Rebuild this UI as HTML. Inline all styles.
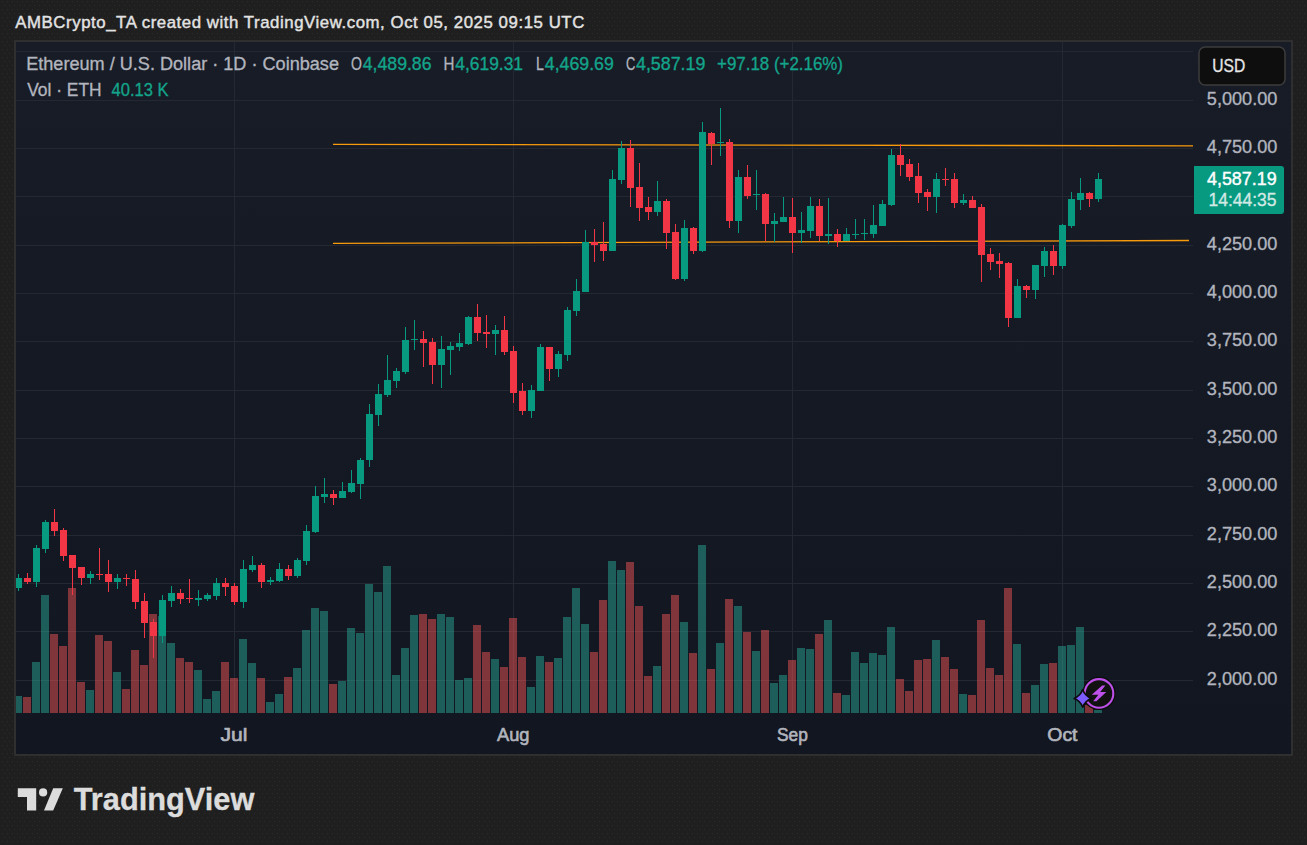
<!DOCTYPE html>
<html><head><meta charset="utf-8"><title>ETH/USD TradingView</title>
<style>html,body{margin:0;padding:0;background:#202020;width:1307px;height:845px;overflow:hidden}svg{display:block}text{font-family:"Liberation Sans",sans-serif}</style>
</head><body>
<svg width="1307" height="845" viewBox="0 0 1307 845" font-family='"Liberation Sans", sans-serif'>
<defs><pattern id="dots" x="0" y="0" width="5" height="8" patternUnits="userSpaceOnUse"><rect x="2" y="1" width="1" height="1" fill="#2c2c2c"/><rect x="4" y="5" width="1" height="1" fill="#2c2c2c"/></pattern><linearGradient id="pg" x1="0" y1="0" x2="0" y2="1"><stop offset="0" stop-color="#181c27"/><stop offset="1" stop-color="#121620"/></linearGradient><clipPath id="pane"><rect x="16" y="42" width="1177" height="671"/></clipPath></defs>
<rect x="0" y="0" width="1307" height="845" fill="#1f1f1f"/>
<rect x="0" y="0" width="1307" height="845" fill="url(#dots)"/>
<rect x="14" y="40" width="1279" height="716" fill="#2f2f2f"/>
<rect x="16" y="42" width="1275" height="712" fill="url(#pg)"/>
<rect x="16" y="51" width="1177" height="1" fill="#242833"/>
<rect x="16" y="100" width="1177" height="1" fill="#242833"/>
<rect x="16" y="148" width="1177" height="1" fill="#242833"/>
<rect x="16" y="196" width="1177" height="1" fill="#242833"/>
<rect x="16" y="245" width="1177" height="1" fill="#242833"/>
<rect x="16" y="293" width="1177" height="1" fill="#242833"/>
<rect x="16" y="341" width="1177" height="1" fill="#242833"/>
<rect x="16" y="390" width="1177" height="1" fill="#242833"/>
<rect x="16" y="438" width="1177" height="1" fill="#242833"/>
<rect x="16" y="486" width="1177" height="1" fill="#242833"/>
<rect x="16" y="535" width="1177" height="1" fill="#242833"/>
<rect x="16" y="583" width="1177" height="1" fill="#242833"/>
<rect x="16" y="631" width="1177" height="1" fill="#242833"/>
<rect x="16" y="680" width="1177" height="1" fill="#242833"/>
<rect x="234" y="42" width="1" height="671" fill="#242833"/>
<rect x="513" y="42" width="1" height="671" fill="#242833"/>
<rect x="792" y="42" width="1" height="671" fill="#242833"/>
<rect x="1062" y="42" width="1" height="671" fill="#242833"/>
<g clip-path="url(#pane)" fill-opacity="0.5"><rect x="14" y="696.0" width="8" height="17.0" fill="#27a595"/><rect x="23" y="697.0" width="8" height="16.0" fill="#eb5353"/><rect x="32" y="662.0" width="8" height="51.0" fill="#27a595"/><rect x="41" y="595.0" width="8" height="118.0" fill="#27a595"/><rect x="50" y="634.0" width="8" height="79.0" fill="#eb5353"/><rect x="59" y="646.0" width="8" height="67.0" fill="#eb5353"/><rect x="68" y="588.0" width="8" height="125.0" fill="#eb5353"/><rect x="77" y="682.0" width="8" height="31.0" fill="#eb5353"/><rect x="86" y="690.0" width="8" height="23.0" fill="#27a595"/><rect x="95" y="635.0" width="8" height="78.0" fill="#eb5353"/><rect x="104" y="641.0" width="8" height="72.0" fill="#eb5353"/><rect x="113" y="672.0" width="8" height="41.0" fill="#27a595"/><rect x="122" y="689.0" width="8" height="24.0" fill="#eb5353"/><rect x="131" y="650.0" width="8" height="63.0" fill="#eb5353"/><rect x="140" y="665.0" width="8" height="48.0" fill="#eb5353"/><rect x="149" y="614.0" width="8" height="99.0" fill="#eb5353"/><rect x="158" y="616.0" width="8" height="97.0" fill="#27a595"/><rect x="167" y="643.0" width="8" height="70.0" fill="#27a595"/><rect x="176" y="658.0" width="8" height="55.0" fill="#eb5353"/><rect x="185" y="662.0" width="8" height="51.0" fill="#eb5353"/><rect x="194" y="670.0" width="8" height="43.0" fill="#27a595"/><rect x="203" y="699.0" width="8" height="14.0" fill="#27a595"/><rect x="212" y="691.0" width="8" height="22.0" fill="#27a595"/><rect x="221" y="662.0" width="8" height="51.0" fill="#eb5353"/><rect x="230" y="678.0" width="8" height="35.0" fill="#eb5353"/><rect x="239" y="639.0" width="8" height="74.0" fill="#27a595"/><rect x="248" y="663.0" width="8" height="50.0" fill="#27a595"/><rect x="257" y="678.0" width="8" height="35.0" fill="#eb5353"/><rect x="266" y="702.0" width="8" height="11.0" fill="#27a595"/><rect x="275" y="694.0" width="8" height="19.0" fill="#27a595"/><rect x="284" y="677.0" width="8" height="36.0" fill="#eb5353"/><rect x="293" y="668.0" width="8" height="45.0" fill="#27a595"/><rect x="302" y="630.0" width="8" height="83.0" fill="#27a595"/><rect x="311" y="608.0" width="8" height="105.0" fill="#27a595"/><rect x="320" y="611.0" width="8" height="102.0" fill="#27a595"/><rect x="329" y="684.0" width="8" height="29.0" fill="#eb5353"/><rect x="338" y="681.0" width="8" height="32.0" fill="#27a595"/><rect x="347" y="628.0" width="8" height="85.0" fill="#27a595"/><rect x="356" y="633.0" width="8" height="80.0" fill="#27a595"/><rect x="365" y="584.0" width="8" height="129.0" fill="#27a595"/><rect x="374" y="592.0" width="8" height="121.0" fill="#27a595"/><rect x="383" y="566.0" width="8" height="147.0" fill="#27a595"/><rect x="392" y="675.0" width="8" height="38.0" fill="#27a595"/><rect x="401" y="648.0" width="8" height="65.0" fill="#27a595"/><rect x="410" y="615.0" width="8" height="98.0" fill="#27a595"/><rect x="419" y="614.0" width="8" height="99.0" fill="#eb5353"/><rect x="428" y="619.0" width="8" height="94.0" fill="#eb5353"/><rect x="437" y="614.0" width="8" height="99.0" fill="#27a595"/><rect x="446" y="617.0" width="8" height="96.0" fill="#27a595"/><rect x="455" y="680.0" width="8" height="33.0" fill="#27a595"/><rect x="464" y="678.0" width="8" height="35.0" fill="#27a595"/><rect x="473" y="625.0" width="8" height="88.0" fill="#eb5353"/><rect x="482" y="652.0" width="8" height="61.0" fill="#eb5353"/><rect x="491" y="659.0" width="8" height="54.0" fill="#27a595"/><rect x="500" y="667.0" width="8" height="46.0" fill="#eb5353"/><rect x="509" y="618.0" width="8" height="95.0" fill="#eb5353"/><rect x="518" y="657.0" width="8" height="56.0" fill="#eb5353"/><rect x="527" y="687.0" width="8" height="26.0" fill="#27a595"/><rect x="536" y="656.0" width="8" height="57.0" fill="#27a595"/><rect x="545" y="662.0" width="8" height="51.0" fill="#eb5353"/><rect x="554" y="658.0" width="8" height="55.0" fill="#27a595"/><rect x="563" y="617.0" width="8" height="96.0" fill="#27a595"/><rect x="572" y="588.0" width="8" height="125.0" fill="#27a595"/><rect x="581" y="624.0" width="8" height="89.0" fill="#27a595"/><rect x="590" y="652.0" width="8" height="61.0" fill="#eb5353"/><rect x="599" y="600.0" width="8" height="113.0" fill="#eb5353"/><rect x="608" y="561.0" width="8" height="152.0" fill="#27a595"/><rect x="617" y="570.0" width="8" height="143.0" fill="#27a595"/><rect x="626" y="562.0" width="8" height="151.0" fill="#eb5353"/><rect x="635" y="606.0" width="8" height="107.0" fill="#eb5353"/><rect x="644" y="676.0" width="8" height="37.0" fill="#eb5353"/><rect x="653" y="666.0" width="8" height="47.0" fill="#27a595"/><rect x="662" y="614.0" width="8" height="99.0" fill="#eb5353"/><rect x="671" y="595.0" width="8" height="118.0" fill="#eb5353"/><rect x="680" y="622.0" width="8" height="91.0" fill="#27a595"/><rect x="689" y="653.0" width="8" height="60.0" fill="#eb5353"/><rect x="698" y="545.0" width="8" height="168.0" fill="#27a595"/><rect x="707" y="669.0" width="8" height="44.0" fill="#eb5353"/><rect x="716" y="643.0" width="8" height="70.0" fill="#27a595"/><rect x="725" y="599.0" width="8" height="114.0" fill="#eb5353"/><rect x="734" y="606.0" width="8" height="107.0" fill="#27a595"/><rect x="743" y="632.0" width="8" height="81.0" fill="#eb5353"/><rect x="752" y="651.0" width="8" height="62.0" fill="#27a595"/><rect x="761" y="630.0" width="8" height="83.0" fill="#eb5353"/><rect x="770" y="683.0" width="8" height="30.0" fill="#27a595"/><rect x="779" y="675.0" width="8" height="38.0" fill="#27a595"/><rect x="788" y="660.0" width="8" height="53.0" fill="#eb5353"/><rect x="797" y="648.0" width="8" height="65.0" fill="#27a595"/><rect x="806" y="649.0" width="8" height="64.0" fill="#27a595"/><rect x="815" y="634.0" width="8" height="79.0" fill="#eb5353"/><rect x="824" y="620.0" width="8" height="93.0" fill="#27a595"/><rect x="833" y="693.0" width="8" height="20.0" fill="#eb5353"/><rect x="842" y="695.0" width="8" height="18.0" fill="#27a595"/><rect x="851" y="652.0" width="8" height="61.0" fill="#27a595"/><rect x="860" y="663.0" width="8" height="50.0" fill="#27a595"/><rect x="869" y="653.0" width="8" height="60.0" fill="#27a595"/><rect x="878" y="655.0" width="8" height="58.0" fill="#27a595"/><rect x="887" y="627.0" width="8" height="86.0" fill="#27a595"/><rect x="896" y="679.0" width="8" height="34.0" fill="#eb5353"/><rect x="905" y="691.0" width="8" height="22.0" fill="#eb5353"/><rect x="914" y="660.0" width="8" height="53.0" fill="#eb5353"/><rect x="923" y="659.0" width="8" height="54.0" fill="#eb5353"/><rect x="932" y="640.0" width="8" height="73.0" fill="#27a595"/><rect x="941" y="657.0" width="8" height="56.0" fill="#eb5353"/><rect x="950" y="669.0" width="8" height="44.0" fill="#eb5353"/><rect x="959" y="694.0" width="8" height="19.0" fill="#27a595"/><rect x="968" y="695.0" width="8" height="18.0" fill="#eb5353"/><rect x="977" y="620.0" width="8" height="93.0" fill="#eb5353"/><rect x="986" y="668.0" width="8" height="45.0" fill="#eb5353"/><rect x="995" y="675.0" width="8" height="38.0" fill="#eb5353"/><rect x="1004" y="588.0" width="8" height="125.0" fill="#eb5353"/><rect x="1013" y="644.0" width="8" height="69.0" fill="#27a595"/><rect x="1022" y="693.0" width="8" height="20.0" fill="#eb5353"/><rect x="1031" y="685.0" width="8" height="28.0" fill="#27a595"/><rect x="1040" y="664.0" width="8" height="49.0" fill="#27a595"/><rect x="1049" y="663.0" width="8" height="50.0" fill="#eb5353"/><rect x="1058" y="646.0" width="8" height="67.0" fill="#27a595"/><rect x="1067" y="645.0" width="8" height="68.0" fill="#27a595"/><rect x="1076" y="627.0" width="8" height="86.0" fill="#27a595"/><rect x="1085" y="705.0" width="8" height="8.0" fill="#eb5353"/><rect x="1094" y="710.0" width="8" height="3.0" fill="#27a595"/></g>
<line x1="333" y1="144.3" x2="1193" y2="145.8" stroke="#f79a0c" stroke-width="1.3"/>
<line x1="333" y1="243.4" x2="1189" y2="240.5" stroke="#f79a0c" stroke-width="1.3"/>
<g clip-path="url(#pane)"><rect x="18" y="574.0" width="1" height="17.0" fill="#089981"/><rect x="15" y="578.0" width="7" height="10.0" fill="#089981"/><rect x="27" y="573.0" width="1" height="11.0" fill="#f23645"/><rect x="24" y="578.0" width="7" height="4.0" fill="#f23645"/><rect x="36" y="545.0" width="1" height="42.0" fill="#089981"/><rect x="33" y="548.0" width="7" height="34.0" fill="#089981"/><rect x="45" y="520.0" width="1" height="33.0" fill="#089981"/><rect x="42" y="522.0" width="7" height="27.0" fill="#089981"/><rect x="54" y="509.0" width="1" height="27.0" fill="#f23645"/><rect x="51" y="522.0" width="7" height="9.0" fill="#f23645"/><rect x="63" y="528.0" width="1" height="33.0" fill="#f23645"/><rect x="60" y="530.0" width="7" height="26.0" fill="#f23645"/><rect x="72" y="555.0" width="1" height="40.0" fill="#f23645"/><rect x="69" y="555.0" width="7" height="13.0" fill="#f23645"/><rect x="81" y="567.0" width="1" height="18.0" fill="#f23645"/><rect x="78" y="567.0" width="7" height="11.0" fill="#f23645"/><rect x="90" y="571.0" width="1" height="13.0" fill="#089981"/><rect x="87" y="574.0" width="7" height="4.0" fill="#089981"/><rect x="99" y="548.0" width="1" height="32.0" fill="#f23645"/><rect x="96" y="574.0" width="7" height="1" fill="#f23645"/><rect x="108" y="560.0" width="1" height="32.0" fill="#f23645"/><rect x="105" y="574.0" width="7" height="8.0" fill="#f23645"/><rect x="117" y="574.0" width="1" height="15.0" fill="#089981"/><rect x="114" y="578.0" width="7" height="4.0" fill="#089981"/><rect x="126" y="574.0" width="1" height="12.0" fill="#f23645"/><rect x="123" y="578.0" width="7" height="1" fill="#f23645"/><rect x="135" y="570.0" width="1" height="39.0" fill="#f23645"/><rect x="132" y="579.0" width="7" height="23.0" fill="#f23645"/><rect x="144" y="593.0" width="1" height="45.0" fill="#f23645"/><rect x="141" y="601.0" width="7" height="22.0" fill="#f23645"/><rect x="153" y="619.0" width="1" height="39.0" fill="#f23645"/><rect x="150" y="622.0" width="7" height="14.0" fill="#f23645"/><rect x="162" y="595.0" width="1" height="48.0" fill="#089981"/><rect x="159" y="600.0" width="7" height="36.0" fill="#089981"/><rect x="171" y="586.0" width="1" height="21.0" fill="#089981"/><rect x="168" y="593.0" width="7" height="8.0" fill="#089981"/><rect x="180" y="589.0" width="1" height="15.0" fill="#f23645"/><rect x="177" y="593.0" width="7" height="6.0" fill="#f23645"/><rect x="189" y="579.0" width="1" height="24.0" fill="#f23645"/><rect x="186" y="598.0" width="7" height="1" fill="#f23645"/><rect x="198" y="590.0" width="1" height="16.0" fill="#089981"/><rect x="195" y="598.0" width="7" height="2.0" fill="#089981"/><rect x="207" y="593.0" width="1" height="8.0" fill="#089981"/><rect x="204" y="595.0" width="7" height="4.0" fill="#089981"/><rect x="216" y="578.0" width="1" height="22.0" fill="#089981"/><rect x="213" y="583.0" width="7" height="13.0" fill="#089981"/><rect x="225" y="578.0" width="1" height="18.0" fill="#f23645"/><rect x="222" y="583.0" width="7" height="4.0" fill="#f23645"/><rect x="234" y="583.0" width="1" height="22.0" fill="#f23645"/><rect x="231" y="586.0" width="7" height="16.0" fill="#f23645"/><rect x="243" y="560.0" width="1" height="48.0" fill="#089981"/><rect x="240" y="569.0" width="7" height="33.0" fill="#089981"/><rect x="252" y="556.0" width="1" height="16.0" fill="#089981"/><rect x="249" y="565.0" width="7" height="5.0" fill="#089981"/><rect x="261" y="563.0" width="1" height="25.0" fill="#f23645"/><rect x="258" y="565.0" width="7" height="17.0" fill="#f23645"/><rect x="270" y="577.0" width="1" height="8.0" fill="#089981"/><rect x="267" y="580.0" width="7" height="2.0" fill="#089981"/><rect x="279" y="563.0" width="1" height="19.0" fill="#089981"/><rect x="276" y="569.0" width="7" height="12.0" fill="#089981"/><rect x="288" y="565.0" width="1" height="15.0" fill="#f23645"/><rect x="285" y="569.0" width="7" height="7.0" fill="#f23645"/><rect x="297" y="558.0" width="1" height="20.0" fill="#089981"/><rect x="294" y="560.0" width="7" height="16.0" fill="#089981"/><rect x="306" y="525.0" width="1" height="40.0" fill="#089981"/><rect x="303" y="531.0" width="7" height="30.0" fill="#089981"/><rect x="315" y="486.0" width="1" height="47.0" fill="#089981"/><rect x="312" y="496.0" width="7" height="36.0" fill="#089981"/><rect x="324" y="478.0" width="1" height="25.0" fill="#089981"/><rect x="321" y="494.0" width="7" height="3.0" fill="#089981"/><rect x="333" y="490.0" width="1" height="15.0" fill="#f23645"/><rect x="330" y="494.0" width="7" height="4.0" fill="#f23645"/><rect x="342" y="482.0" width="1" height="16.0" fill="#089981"/><rect x="339" y="491.0" width="7" height="7.0" fill="#089981"/><rect x="351" y="470.0" width="1" height="23.0" fill="#089981"/><rect x="348" y="483.0" width="7" height="9.0" fill="#089981"/><rect x="360" y="458.0" width="1" height="41.0" fill="#089981"/><rect x="357" y="460.0" width="7" height="24.0" fill="#089981"/><rect x="369" y="404.0" width="1" height="63.0" fill="#089981"/><rect x="366" y="414.0" width="7" height="46.0" fill="#089981"/><rect x="378" y="384.0" width="1" height="42.0" fill="#089981"/><rect x="375" y="394.0" width="7" height="21.0" fill="#089981"/><rect x="387" y="355.0" width="1" height="42.0" fill="#089981"/><rect x="384" y="380.0" width="7" height="15.0" fill="#089981"/><rect x="396" y="368.0" width="1" height="20.0" fill="#089981"/><rect x="393" y="371.0" width="7" height="10.0" fill="#089981"/><rect x="405" y="327.0" width="1" height="47.0" fill="#089981"/><rect x="402" y="340.0" width="7" height="32.0" fill="#089981"/><rect x="414" y="320.0" width="1" height="30.0" fill="#089981"/><rect x="411" y="339.0" width="7" height="1" fill="#089981"/><rect x="423" y="331.0" width="1" height="36.0" fill="#f23645"/><rect x="420" y="339.0" width="7" height="4.0" fill="#f23645"/><rect x="432" y="338.0" width="1" height="46.0" fill="#f23645"/><rect x="429" y="342.0" width="7" height="23.0" fill="#f23645"/><rect x="441" y="336.0" width="1" height="52.0" fill="#089981"/><rect x="438" y="349.0" width="7" height="16.0" fill="#089981"/><rect x="450" y="342.0" width="1" height="33.0" fill="#089981"/><rect x="447" y="346.0" width="7" height="4.0" fill="#089981"/><rect x="459" y="333.0" width="1" height="18.0" fill="#089981"/><rect x="456" y="343.0" width="7" height="4.0" fill="#089981"/><rect x="468" y="316.0" width="1" height="29.0" fill="#089981"/><rect x="465" y="317.0" width="7" height="27.0" fill="#089981"/><rect x="477" y="304.0" width="1" height="37.0" fill="#f23645"/><rect x="474" y="317.0" width="7" height="16.0" fill="#f23645"/><rect x="486" y="315.0" width="1" height="33.0" fill="#f23645"/><rect x="483" y="332.0" width="7" height="2.0" fill="#f23645"/><rect x="495" y="325.0" width="1" height="30.0" fill="#089981"/><rect x="492" y="330.0" width="7" height="4.0" fill="#089981"/><rect x="504" y="316.0" width="1" height="39.0" fill="#f23645"/><rect x="501" y="330.0" width="7" height="22.0" fill="#f23645"/><rect x="513" y="346.0" width="1" height="57.0" fill="#f23645"/><rect x="510" y="351.0" width="7" height="42.0" fill="#f23645"/><rect x="522" y="383.0" width="1" height="32.0" fill="#f23645"/><rect x="519" y="391.0" width="7" height="20.0" fill="#f23645"/><rect x="531" y="385.0" width="1" height="33.0" fill="#089981"/><rect x="528" y="390.0" width="7" height="21.0" fill="#089981"/><rect x="540" y="344.0" width="1" height="47.0" fill="#089981"/><rect x="537" y="347.0" width="7" height="44.0" fill="#089981"/><rect x="549" y="347.0" width="1" height="34.0" fill="#f23645"/><rect x="546" y="347.0" width="7" height="22.0" fill="#f23645"/><rect x="558" y="351.0" width="1" height="26.0" fill="#089981"/><rect x="555" y="354.0" width="7" height="15.0" fill="#089981"/><rect x="567" y="307.0" width="1" height="54.0" fill="#089981"/><rect x="564" y="310.0" width="7" height="45.0" fill="#089981"/><rect x="576" y="279.0" width="1" height="37.0" fill="#089981"/><rect x="573" y="291.0" width="7" height="20.0" fill="#089981"/><rect x="585" y="230.0" width="1" height="62.0" fill="#089981"/><rect x="582" y="242.0" width="7" height="50.0" fill="#089981"/><rect x="594" y="229.0" width="1" height="33.0" fill="#f23645"/><rect x="591" y="242.0" width="7" height="3.0" fill="#f23645"/><rect x="603" y="222.0" width="1" height="39.0" fill="#f23645"/><rect x="600" y="244.0" width="7" height="7.0" fill="#f23645"/><rect x="612" y="170.0" width="1" height="81.0" fill="#089981"/><rect x="609" y="179.0" width="7" height="72.0" fill="#089981"/><rect x="621" y="141.0" width="1" height="43.0" fill="#089981"/><rect x="618" y="148.0" width="7" height="32.0" fill="#089981"/><rect x="630" y="140.0" width="1" height="67.0" fill="#f23645"/><rect x="627" y="148.0" width="7" height="40.0" fill="#f23645"/><rect x="639" y="163.0" width="1" height="58.0" fill="#f23645"/><rect x="636" y="187.0" width="7" height="21.0" fill="#f23645"/><rect x="648" y="197.0" width="1" height="23.0" fill="#f23645"/><rect x="645" y="207.0" width="7" height="5.0" fill="#f23645"/><rect x="657" y="181.0" width="1" height="35.0" fill="#089981"/><rect x="654" y="201.0" width="7" height="11.0" fill="#089981"/><rect x="666" y="199.0" width="1" height="50.0" fill="#f23645"/><rect x="663" y="201.0" width="7" height="32.0" fill="#f23645"/><rect x="675" y="224.0" width="1" height="56.0" fill="#f23645"/><rect x="672" y="232.0" width="7" height="47.0" fill="#f23645"/><rect x="684" y="220.0" width="1" height="61.0" fill="#089981"/><rect x="681" y="228.0" width="7" height="51.0" fill="#089981"/><rect x="693" y="227.0" width="1" height="27.0" fill="#f23645"/><rect x="690" y="228.0" width="7" height="23.0" fill="#f23645"/><rect x="702" y="122.0" width="1" height="130.0" fill="#089981"/><rect x="699" y="132.0" width="7" height="119.0" fill="#089981"/><rect x="711" y="132.0" width="1" height="33.0" fill="#f23645"/><rect x="708" y="133.0" width="7" height="11.0" fill="#f23645"/><rect x="720" y="108.0" width="1" height="48.0" fill="#089981"/><rect x="717" y="142.0" width="7" height="1" fill="#089981"/><rect x="729" y="139.0" width="1" height="89.0" fill="#f23645"/><rect x="726" y="142.0" width="7" height="79.0" fill="#f23645"/><rect x="738" y="170.0" width="1" height="63.0" fill="#089981"/><rect x="735" y="177.0" width="7" height="44.0" fill="#089981"/><rect x="747" y="165.0" width="1" height="34.0" fill="#f23645"/><rect x="744" y="177.0" width="7" height="19.0" fill="#f23645"/><rect x="756" y="170.0" width="1" height="40.0" fill="#089981"/><rect x="753" y="194.0" width="7" height="1" fill="#089981"/><rect x="765" y="193.0" width="1" height="48.0" fill="#f23645"/><rect x="762" y="194.0" width="7" height="30.0" fill="#f23645"/><rect x="774" y="213.0" width="1" height="29.0" fill="#089981"/><rect x="771" y="221.0" width="7" height="3.0" fill="#089981"/><rect x="783" y="197.0" width="1" height="25.0" fill="#089981"/><rect x="780" y="217.0" width="7" height="5.0" fill="#089981"/><rect x="792" y="198.0" width="1" height="55.0" fill="#f23645"/><rect x="789" y="217.0" width="7" height="16.0" fill="#f23645"/><rect x="801" y="212.0" width="1" height="31.0" fill="#089981"/><rect x="798" y="230.0" width="7" height="3.0" fill="#089981"/><rect x="810" y="197.0" width="1" height="41.0" fill="#089981"/><rect x="807" y="206.0" width="7" height="25.0" fill="#089981"/><rect x="819" y="199.0" width="1" height="42.0" fill="#f23645"/><rect x="816" y="206.0" width="7" height="30.0" fill="#f23645"/><rect x="828" y="198.0" width="1" height="46.0" fill="#089981"/><rect x="825" y="234.0" width="7" height="2.0" fill="#089981"/><rect x="837" y="229.0" width="1" height="18.0" fill="#f23645"/><rect x="834" y="234.0" width="7" height="7.0" fill="#f23645"/><rect x="846" y="228.0" width="1" height="13.0" fill="#089981"/><rect x="843" y="234.0" width="7" height="7.0" fill="#089981"/><rect x="855" y="219.0" width="1" height="20.0" fill="#089981"/><rect x="852" y="234.0" width="7" height="1" fill="#089981"/><rect x="864" y="219.0" width="1" height="21.0" fill="#089981"/><rect x="861" y="233.0" width="7" height="1" fill="#089981"/><rect x="873" y="205.0" width="1" height="33.0" fill="#089981"/><rect x="870" y="225.0" width="7" height="9.0" fill="#089981"/><rect x="882" y="200.0" width="1" height="26.0" fill="#089981"/><rect x="879" y="204.0" width="7" height="22.0" fill="#089981"/><rect x="891" y="149.0" width="1" height="57.0" fill="#089981"/><rect x="888" y="155.0" width="7" height="50.0" fill="#089981"/><rect x="900" y="144.0" width="1" height="32.0" fill="#f23645"/><rect x="897" y="155.0" width="7" height="10.0" fill="#f23645"/><rect x="909" y="159.0" width="1" height="22.0" fill="#f23645"/><rect x="906" y="164.0" width="7" height="13.0" fill="#f23645"/><rect x="918" y="163.0" width="1" height="40.0" fill="#f23645"/><rect x="915" y="176.0" width="7" height="17.0" fill="#f23645"/><rect x="927" y="189.0" width="1" height="22.0" fill="#f23645"/><rect x="924" y="192.0" width="7" height="5.0" fill="#f23645"/><rect x="936" y="173.0" width="1" height="40.0" fill="#089981"/><rect x="933" y="179.0" width="7" height="18.0" fill="#089981"/><rect x="945" y="168.0" width="1" height="18.0" fill="#f23645"/><rect x="942" y="179.0" width="7" height="1" fill="#f23645"/><rect x="954" y="173.0" width="1" height="35.0" fill="#f23645"/><rect x="951" y="179.0" width="7" height="24.0" fill="#f23645"/><rect x="963" y="194.0" width="1" height="11.0" fill="#089981"/><rect x="960" y="200.0" width="7" height="3.0" fill="#089981"/><rect x="972" y="196.0" width="1" height="12.0" fill="#f23645"/><rect x="969" y="200.0" width="7" height="8.0" fill="#f23645"/><rect x="981" y="204.0" width="1" height="78.0" fill="#f23645"/><rect x="978" y="207.0" width="7" height="48.0" fill="#f23645"/><rect x="990" y="248.0" width="1" height="22.0" fill="#f23645"/><rect x="987" y="254.0" width="7" height="8.0" fill="#f23645"/><rect x="999" y="253.0" width="1" height="25.0" fill="#f23645"/><rect x="996" y="261.0" width="7" height="3.0" fill="#f23645"/><rect x="1008" y="262.0" width="1" height="65.0" fill="#f23645"/><rect x="1005" y="263.0" width="7" height="55.0" fill="#f23645"/><rect x="1017" y="279.0" width="1" height="39.0" fill="#089981"/><rect x="1014" y="286.0" width="7" height="32.0" fill="#089981"/><rect x="1026" y="285.0" width="1" height="13.0" fill="#f23645"/><rect x="1023" y="286.0" width="7" height="4.0" fill="#f23645"/><rect x="1035" y="265.0" width="1" height="34.0" fill="#089981"/><rect x="1032" y="265.0" width="7" height="25.0" fill="#089981"/><rect x="1044" y="247.0" width="1" height="30.0" fill="#089981"/><rect x="1041" y="251.0" width="7" height="15.0" fill="#089981"/><rect x="1053" y="245.0" width="1" height="30.0" fill="#f23645"/><rect x="1050" y="251.0" width="7" height="15.0" fill="#f23645"/><rect x="1062" y="224.0" width="1" height="45.0" fill="#089981"/><rect x="1059" y="225.0" width="7" height="41.0" fill="#089981"/><rect x="1071" y="192.0" width="1" height="36.0" fill="#089981"/><rect x="1068" y="199.0" width="7" height="27.0" fill="#089981"/><rect x="1080" y="178.0" width="1" height="32.0" fill="#089981"/><rect x="1077" y="193.0" width="7" height="7.0" fill="#089981"/><rect x="1089" y="192.0" width="1" height="15.0" fill="#f23645"/><rect x="1086" y="193.0" width="7" height="6.0" fill="#f23645"/><rect x="1098" y="173.0" width="1" height="29.0" fill="#089981"/><rect x="1095" y="179.0" width="7" height="20.0" fill="#089981"/></g>
<text x="1206.8" y="105.2" font-size="17.7" fill="#b2b5be" text-anchor="start" font-weight="normal" textLength="70.6" lengthAdjust="spacingAndGlyphs"  stroke="#b2b5be" stroke-width="0.32">5,000.00</text>
<text x="1206.8" y="153.2" font-size="17.7" fill="#b2b5be" text-anchor="start" font-weight="normal" textLength="70.6" lengthAdjust="spacingAndGlyphs"  stroke="#b2b5be" stroke-width="0.32">4,750.00</text>
<text x="1206.8" y="250.2" font-size="17.7" fill="#b2b5be" text-anchor="start" font-weight="normal" textLength="70.6" lengthAdjust="spacingAndGlyphs"  stroke="#b2b5be" stroke-width="0.32">4,250.00</text>
<text x="1206.8" y="298.2" font-size="17.7" fill="#b2b5be" text-anchor="start" font-weight="normal" textLength="70.6" lengthAdjust="spacingAndGlyphs"  stroke="#b2b5be" stroke-width="0.32">4,000.00</text>
<text x="1206.8" y="346.2" font-size="17.7" fill="#b2b5be" text-anchor="start" font-weight="normal" textLength="70.6" lengthAdjust="spacingAndGlyphs"  stroke="#b2b5be" stroke-width="0.32">3,750.00</text>
<text x="1206.8" y="395.2" font-size="17.7" fill="#b2b5be" text-anchor="start" font-weight="normal" textLength="70.6" lengthAdjust="spacingAndGlyphs"  stroke="#b2b5be" stroke-width="0.32">3,500.00</text>
<text x="1206.8" y="443.2" font-size="17.7" fill="#b2b5be" text-anchor="start" font-weight="normal" textLength="70.6" lengthAdjust="spacingAndGlyphs"  stroke="#b2b5be" stroke-width="0.32">3,250.00</text>
<text x="1206.8" y="491.2" font-size="17.7" fill="#b2b5be" text-anchor="start" font-weight="normal" textLength="70.6" lengthAdjust="spacingAndGlyphs"  stroke="#b2b5be" stroke-width="0.32">3,000.00</text>
<text x="1206.8" y="540.2" font-size="17.7" fill="#b2b5be" text-anchor="start" font-weight="normal" textLength="70.6" lengthAdjust="spacingAndGlyphs"  stroke="#b2b5be" stroke-width="0.32">2,750.00</text>
<text x="1206.8" y="588.2" font-size="17.7" fill="#b2b5be" text-anchor="start" font-weight="normal" textLength="70.6" lengthAdjust="spacingAndGlyphs"  stroke="#b2b5be" stroke-width="0.32">2,500.00</text>
<text x="1206.8" y="636.2" font-size="17.7" fill="#b2b5be" text-anchor="start" font-weight="normal" textLength="70.6" lengthAdjust="spacingAndGlyphs"  stroke="#b2b5be" stroke-width="0.32">2,250.00</text>
<text x="1206.8" y="685.2" font-size="17.7" fill="#b2b5be" text-anchor="start" font-weight="normal" textLength="70.6" lengthAdjust="spacingAndGlyphs"  stroke="#b2b5be" stroke-width="0.32">2,000.00</text>
<rect x="1199" y="47" width="86" height="38" rx="6" fill="#0e0e0e" stroke="#3c3c3c" stroke-width="1.5"/>
<text x="1212.3" y="71.8" font-size="17.5" fill="#e6e6e6" text-anchor="start" font-weight="normal" textLength="33" lengthAdjust="spacingAndGlyphs" stroke="#e6e6e6" stroke-width="0.3">USD</text>
<path d="M1194 166 H1281 Q1284 166 1284 169 V211 Q1284 214 1281 214 H1194 Z" fill="#089981"/>
<text x="1207" y="184.8" font-size="17.7" fill="#ffffff" text-anchor="start" font-weight="normal" textLength="69.6" lengthAdjust="spacingAndGlyphs" stroke="#ffffff" stroke-width="0.4">4,587.19</text>
<text x="1208.5" y="205.7" font-size="17.7" fill="#d3e9e4" text-anchor="start" font-weight="normal" textLength="68" lengthAdjust="spacingAndGlyphs"  stroke="#d3e9e4" stroke-width="0.32">14:44:35</text>
<text x="15.3" y="28.3" font-size="16.8" fill="#e3e3e3" text-anchor="start" font-weight="normal" textLength="569" lengthAdjust="spacing" stroke="#e3e3e3" stroke-width="0.42">AMBCrypto_TA created with TradingView.com, Oct 05, 2025 09:15 UTC</text>
<text x="26.2" y="69.8" font-size="17.7" fill="#b2b5be" text-anchor="start" font-weight="normal" textLength="312.8" lengthAdjust="spacingAndGlyphs"  stroke="#b2b5be" stroke-width="0.32">Ethereum / U.S. Dollar · 1D · Coinbase</text>
<text x="350.9" y="69.8" font-size="17.7" fill="#b2b5be" text-anchor="start" font-weight="normal" textLength="10.9" lengthAdjust="spacingAndGlyphs"  stroke="#b2b5be" stroke-width="0.32">O</text>
<text x="362.8" y="69.8" font-size="17.7" fill="#13a58b" text-anchor="start" font-weight="normal" textLength="68.7" lengthAdjust="spacingAndGlyphs"  stroke="#13a58b" stroke-width="0.32">4,489.86</text>
<text x="443.4" y="69.8" font-size="17.7" fill="#b2b5be" text-anchor="start" font-weight="normal" textLength="10.9" lengthAdjust="spacingAndGlyphs"  stroke="#b2b5be" stroke-width="0.32">H</text>
<text x="455.3" y="69.8" font-size="17.7" fill="#13a58b" text-anchor="start" font-weight="normal" textLength="67.7" lengthAdjust="spacingAndGlyphs"  stroke="#13a58b" stroke-width="0.32">4,619.31</text>
<text x="535.9" y="69.8" font-size="17.7" fill="#b2b5be" text-anchor="start" font-weight="normal" textLength="7.9" lengthAdjust="spacingAndGlyphs"  stroke="#b2b5be" stroke-width="0.32">L</text>
<text x="544.8" y="69.8" font-size="17.7" fill="#13a58b" text-anchor="start" font-weight="normal" textLength="69" lengthAdjust="spacingAndGlyphs"  stroke="#13a58b" stroke-width="0.32">4,469.69</text>
<text x="626" y="69.8" font-size="17.7" fill="#b2b5be" text-anchor="start" font-weight="normal" textLength="9.3" lengthAdjust="spacingAndGlyphs"  stroke="#b2b5be" stroke-width="0.32">C</text>
<text x="636" y="69.8" font-size="17.7" fill="#13a58b" text-anchor="start" font-weight="normal" textLength="69.3" lengthAdjust="spacingAndGlyphs"  stroke="#13a58b" stroke-width="0.32">4,587.19</text>
<text x="717" y="69.8" font-size="17.7" fill="#13a58b" text-anchor="start" font-weight="normal" textLength="126" lengthAdjust="spacingAndGlyphs"  stroke="#13a58b" stroke-width="0.32">+97.18 (+2.16%)</text>
<text x="27.2" y="95.9" font-size="17.7" fill="#b2b5be" text-anchor="start" font-weight="normal" textLength="74.5" lengthAdjust="spacingAndGlyphs"  stroke="#b2b5be" stroke-width="0.32">Vol · ETH</text>
<text x="111.5" y="95.9" font-size="17.7" fill="#13a58b" text-anchor="start" font-weight="normal" textLength="57" lengthAdjust="spacingAndGlyphs"  stroke="#13a58b" stroke-width="0.32">40.13 K</text>
<text x="220.5" y="741" font-size="17.8" fill="#b2b5be" text-anchor="start" font-weight="normal" textLength="27" lengthAdjust="spacingAndGlyphs" stroke="#b2b5be" stroke-width="0.6">Jul</text>
<text x="497" y="741" font-size="17.8" fill="#b2b5be" text-anchor="start" font-weight="normal" textLength="32.5" lengthAdjust="spacingAndGlyphs" stroke="#b2b5be" stroke-width="0.6">Aug</text>
<text x="777" y="741" font-size="17.8" fill="#b2b5be" text-anchor="start" font-weight="normal" textLength="30.8" lengthAdjust="spacingAndGlyphs" stroke="#b2b5be" stroke-width="0.6">Sep</text>
<text x="1047.3" y="741" font-size="17.8" fill="#b2b5be" text-anchor="start" font-weight="normal" textLength="30.2" lengthAdjust="spacingAndGlyphs" stroke="#b2b5be" stroke-width="0.6">Oct</text>
<g><circle cx="1099" cy="693.4" r="16.6" fill="#0c0c0c"/><circle cx="1099" cy="693.4" r="14.3" fill="#111111" stroke="#bd50e8" stroke-width="2.1"/><path d="M1102.2 685.6 L1105.4 685.6 L1100.2 692.1 L1106.3 692.1 L1096.4 701.3 L1093.2 701.3 L1098.4 694.7 L1091.7 694.7 Z" fill="#bd50e8"/><path d="M1082.7 689.6 Q1085 696.1 1091.3 698.4 Q1085 700.7 1082.7 707.2 Q1080.4 700.7 1074.1 698.4 Q1080.4 696.1 1082.7 689.6 Z" fill="#7c5cff" stroke="#0c0c0c" stroke-width="1.6" stroke-linejoin="round"/></g>
<g fill="#dcdcdc"><path d="M17.8 788.3 H36.2 V810.4 H27 V797 H17.8 Z"/><circle cx="43.1" cy="792.4" r="4.1"/><path d="M53.2 788.3 H62.8 L53.2 810.4 H44 Z"/></g>
<text x="73.7" y="810.3" font-size="30.8" fill="#dcdcdc" text-anchor="start" font-weight="bold" textLength="180.7" lengthAdjust="spacingAndGlyphs"  stroke="#dcdcdc" stroke-width="0.32">TradingView</text>
</svg>
</body></html>
